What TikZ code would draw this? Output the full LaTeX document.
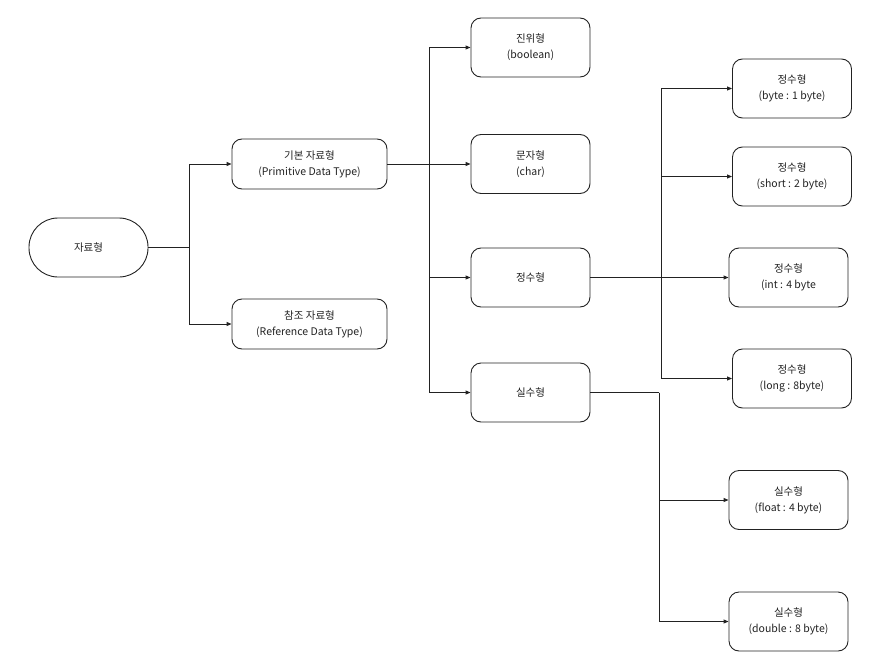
\documentclass[tikz,border=0pt]{standalone}
\usepackage{fontspec}
\setmainfont{Noto Sans CJK KR}
\usetikzlibrary{arrows.meta}
\definecolor{ink}{HTML}{222222}
\tikzset{
  box/.style={draw=ink, line width=0.9pt, rounded corners=10pt, align=center,
    font=\fontsize{10.5}{16}\selectfont, text=ink, inner sep=0pt},
  lvl/.style={box, minimum width=155pt, minimum height=50pt},
  leaf/.style={box, minimum width=119pt, minimum height=59pt},
  conn/.style={draw=ink, line width=0.9pt},
  arr/.style={conn, -{Triangle[length=5pt,width=4pt]}}
}
\begin{document}
\begin{tikzpicture}[x=1pt,y=-1pt]
\useasboundingbox (0,0) rectangle (875,669);
% nodes
\node[box, minimum width=119pt, minimum height=59pt, rounded corners=29pt] (root) at (88.5,247.5) {자료형};
\node[lvl] (prim) at (309.5,164) {기본 자료형\\(Primitive Data Type)};
\node[lvl] (ref) at (309.5,324) {참조 자료형\\(Reference Data Type)};
\node[leaf] (bool) at (530.5,47.5) {진위형\\(boolean)};
\node[leaf] (char) at (530.5,164) {문자형\\(char)};
\node[leaf] (integ) at (530.5,277.5) {정수형};
\node[leaf] (real) at (530.5,392.5) {실수형};
\node[leaf] (byte) at (792,88.5) {정수형\\(byte : 1 byte)};
\node[leaf] (short) at (792,176.5) {정수형\\(short : 2 byte)};
\node[leaf] (int) at (788.5,277.5) {정수형\\(int : 4 byte};
\node[leaf] (long) at (792,378.5) {정수형\\(long : 8byte)};
\node[leaf] (float) at (788.5,500) {실수형\\(float : 4 byte)};
\node[leaf] (double) at (788.5,621.5) {실수형\\(double : 8 byte)};
% junctions
\coordinate (j1) at (189,247.5);
\coordinate (j2) at (429,164);
\coordinate (j3) at (661,277.5);
\coordinate (j4) at (659,392.5);
% connectors
\draw[conn] (root.east) -- (j1);
\draw[arr] (j1) |- (prim.west);
\draw[arr] (j1) |- (ref.west);
\draw[arr] (prim.east) -- (char.west);
\draw[arr] (j2) |- (bool.west);
\draw[arr] (j2) |- (integ.west);
\draw[arr] (j2) |- (real.west);
\draw[arr] (integ.east) -- (int.west);
\draw[arr] (j3) |- (byte.west);
\draw[arr] (j3) |- (short.west);
\draw[arr] (j3) |- (long.west);
\draw[conn] (real.east) -- (j4);
\draw[arr] (j4) |- (float.west);
\draw[arr] (j4) |- (double.west);
\end{tikzpicture}
\end{document}
